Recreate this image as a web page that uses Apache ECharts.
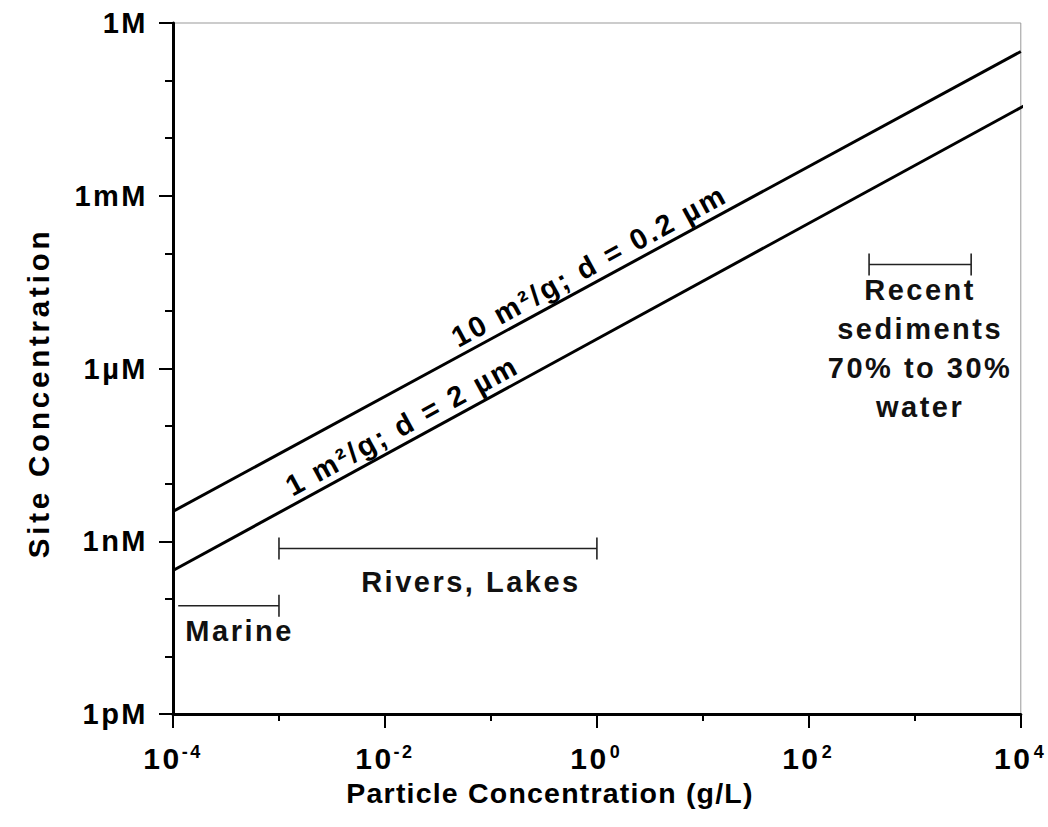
<!DOCTYPE html>
<html>
<head>
<meta charset="utf-8">
<script src="https://cdn.jsdelivr.net/npm/echarts@6/dist/echarts.min.js"></script>
<style>
html, body { margin: 0; padding: 0; background: #fff; }
#chart { width: 1048px; height: 827px; }
#chart text { letter-spacing: 2.5px; }
#chart text[style*="28.5px"] { letter-spacing: 1.2px; }
#chart text[style*="29.5px"] { letter-spacing: 3.8px; }
</style>
</head>
<body>
<div id="chart"></div>
<script>
// ---------------- data ----------------
const particleConc10 = [1e-4, 1e4];          // g/L
const sites10 = [3.3e-9, 3.2e-1];            // M  (10 m²/g; d = 0.2 µm)
const particleConc1 = [1e-4, 1.19e4];        // g/L (this line runs a little past the frame)
const sites1 = [3.1e-10, 4.05e-2];           // M  (1 m²/g; d = 2 µm)
const lineNames = ['10 m²/g; d = 0.2 µm', '1 m²/g; d = 2 µm'];
const rangeNames = ['Marine', 'Rivers, Lakes', 'Recent\nsediments\n70% to 30%\nwater'];
const rangeFrom = [1.12e-4, 1e-3, 370];      // g/L
const rangeTo = [1e-3, 1, 3400];             // g/L
const rangeLevel = [7.6e-11, 7.5e-10, 6.4e-5]; // M
const yTickLabels = { '-12': '1pM', '-9': '1nM', '-6': '1µM', '-3': '1mM', '0': '1M' };
const xTitle = 'Particle Concentration (g/L)';
const yTitle = 'Site Concentration';

// ---------------- layout / style ----------------
const FAMILY = '"Liberation Sans", Arial, Helvetica, sans-serif';
const labelMidExp = [0.005, -1.76];           // where each line label is centred (log10 g/L)
const rangeLayout = [
  { capLeft: false, dx: 11, dy: 25, va: 'middle' },
  { capLeft: true, dx: 33, dy: 34, va: 'middle' },
  { capLeft: true, dx: 0, dy: 6, va: 'top' }
];
const lg = Math.log10;

function yOnLine(xs, ys, xe) {
  const x0 = lg(xs[0]), x1 = lg(xs[1]), y0 = lg(ys[0]), y1 = lg(ys[1]);
  return y0 + (y1 - y0) * (xe - x0) / (x1 - x0);
}

function lineSeries(xs, ys, idx) {
  const m = labelMidExp[idx];
  return {
    type: 'line',
    data: xs.map((x, i) => [lg(x), lg(ys[i])]),
    symbol: 'none',
    clip: false,
    lineStyle: { color: '#000', width: 3 },
    silent: true,
    markLine: {
      silent: true,
      symbol: ['none', 'none'],
      lineStyle: { width: 0, color: 'rgba(0,0,0,0)' },
      label: {
        show: true,
        position: 'insideMiddleTop',
        distance: 3,
        formatter: lineNames[idx],
        fontSize: 29,
        fontWeight: 'bold',
        fontFamily: FAMILY,
        color: '#000'
      },
      data: [[
        { coord: [m - 1, yOnLine(xs, ys, m - 1)] },
        { coord: [m + 1, yOnLine(xs, ys, m + 1)] }
      ]]
    }
  };
}

const chart = echarts.init(document.getElementById('chart'), null, { renderer: 'svg' });

const tickStyle = { color: '#000', width: 2 };
const option = {
  animation: false,
  backgroundColor: '#fff',
  grid: { left: 173, right: 26, top: 23, bottom: 113, show: true, borderColor: '#999', borderWidth: 1, backgroundColor: 'transparent' },
  xAxis: {
    type: 'value', min: -4, max: 4, interval: 2,
    axisLine: { onZero: false, lineStyle: { color: '#000', width: 3 } },
    axisTick: { length: 14, lineStyle: tickStyle },
    minorTick: { show: true, splitNumber: 2, length: 7, lineStyle: tickStyle },
    splitLine: { show: false },
    minorSplitLine: { show: false },
    axisLabel: {
      margin: 29,
      formatter: v => '{b|10}{s|' + v + '}',
      rich: {
        b: { fontSize: 30, fontWeight: 'bold', fontFamily: FAMILY, color: '#000' },
        s: { fontSize: 18, fontWeight: 'bold', fontFamily: FAMILY, color: '#000', verticalAlign: 'top', padding: [0, 0, 0, 5] }
      }
    }
  },
  yAxis: {
    type: 'value', min: -12, max: 0, interval: 3,
    axisLine: { onZero: false, lineStyle: { color: '#000', width: 3 } },
    axisTick: { length: 14, lineStyle: tickStyle },
    minorTick: { show: true, splitNumber: 3, length: 8, lineStyle: tickStyle },
    splitLine: { show: false },
    minorSplitLine: { show: false },
    axisLabel: {
      margin: 25,
      formatter: v => yTickLabels[String(v)] || '',
      fontSize: 29, fontWeight: 'bold', fontFamily: FAMILY, color: '#000'
    }
  },
  graphic: [
    { type: 'text', x: 550, y: 793, silent: true,
      style: { text: xTitle, align: 'center', verticalAlign: 'middle', font: 'bold 28.5px ' + FAMILY, fill: '#000' } },
    { type: 'text', x: 38, y: 393, rotation: Math.PI / 2, silent: true,
      style: { text: yTitle, align: 'center', verticalAlign: 'middle', font: 'bold 29.5px ' + FAMILY, fill: '#000' } }
  ],
  series: [
    lineSeries(particleConc10, sites10, 0),
    lineSeries(particleConc1, sites1, 1),
    {
      type: 'custom',
      silent: true,
      data: rangeFrom.map((f, i) => [lg(f), lg(rangeTo[i]), lg(rangeLevel[i])]),
      encode: { x: [0, 1], y: 2 },
      renderItem: function (params, api) {
        const i = params.dataIndex;
        const p1 = api.coord([api.value(0), api.value(2)]);
        const p2 = api.coord([api.value(1), api.value(2)]);
        const L = rangeLayout[i];
        const cap = 11;
        const ls = { stroke: '#222', lineWidth: 1.6 };
        const children = [
          { type: 'line', shape: { x1: p1[0], y1: p1[1], x2: p2[0], y2: p2[1] }, style: ls },
          { type: 'line', shape: { x1: p2[0], y1: p2[1] - cap, x2: p2[0], y2: p2[1] + cap }, style: ls }
        ];
        if (L.capLeft) {
          children.push({ type: 'line', shape: { x1: p1[0], y1: p1[1] - cap, x2: p1[0], y2: p1[1] + cap }, style: ls });
        }
        children.push({
          type: 'text',
          style: {
            text: rangeNames[i],
            x: (p1[0] + p2[0]) / 2 + L.dx,
            y: p1[1] + L.dy,
            align: 'center',
            verticalAlign: L.va,
            font: 'bold 29px ' + FAMILY,
            lineHeight: 39,
            fill: '#111'
          }
        });
        return { type: 'group', children: children };
      }
    }
  ]
};
chart.setOption(option);
</script>
</body>
</html>
